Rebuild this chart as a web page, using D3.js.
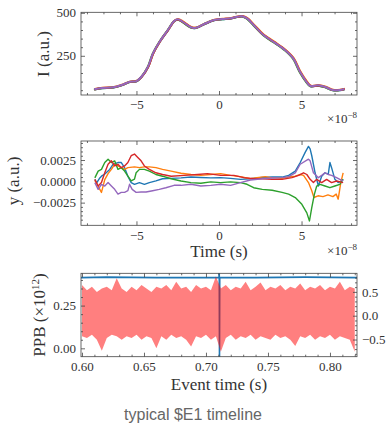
<!DOCTYPE html>
<html>
<head>
<meta charset="utf-8">
<script src="https://cdn.jsdelivr.net/npm/d3@7"></script>
<style>
  body { margin: 0; background: #fff; }
  svg { display: block; }
  .tick text { font-family: "Liberation Serif", serif; font-size: 13px; fill: #333; }
  .tick line { stroke: #444; stroke-width: 0.8; }
  .lbl { font-family: "Liberation Serif", serif; fill: #333; }
</style>
</head>
<body>
<div id="chart"></div>
<script>
// ---- top panel: intensity (time in units of 1e-8 s)
var intensityTime = [-7.56, -7.1, -6.4, -5.9, -5.4, -5.0, -4.7, -4.3, -4.0, -3.6, -3.1, -2.7, -2.5, -2.2, -1.7, -1.4, -0.9, -0.3, 0.2, 0.7, 1.1, 1.4, 1.7, 2.1, 2.7, 3.3, 4.0, 4.5, 4.9, 5.3, 5.55, 6.0, 6.4, 6.9, 7.3, 7.6];
var intensity = [55, 63, 67, 80, 99, 103, 128, 187, 264, 332, 400, 454, 462, 448, 416, 413, 435, 458, 464, 468, 477, 480, 468, 429, 371, 332, 284, 235, 158, 99, 74, 78, 70, 51, 51, 57];
var seriesColors = ["#1f77b4", "#ff7f0e", "#2ca02c", "#d62728", "#9467bd"];

// ---- middle panel: y (values in units of 1e-3)
var blueT = [-7.52, -7.42, -7.22, -7.12, -6.92, -6.62, -6.42, -6.12, -5.92, -5.72, -5.52, -5.32, -5.12, -4.82, -4.52, -4.22, -3.82, -3.42, -2.9, -2.3, -1.7, -1.1, -0.5, 0.1, 0.7, 1.3, 1.9, 2.3, 2.62, 3.22, 3.82, 4.22, 4.62, 4.92, 5.22, 5.42, 5.52, 5.62, 5.82, 6.02, 6.22, 6.42, 6.62, 6.72, 6.82, 7.02, 7.22, 7.42, 7.52];
var blueY = [0.23, -0.2, 0.4, 0.6, 0.85, 1.4, 2.0, 2.2, 2.2, 1.6, 0.6, -0.15, -0.35, -0.15, -0.35, -0.15, 0.05, 0.3, 0.35, 0.4, 0.5, 0.45, 0.4, 0.43, 0.35, 0.23, 0.3, 0.4, 0.45, 0.5, 0.5, 0.7, 1.2, 2.2, 3.4, 4.1, 3.8, 3.0, 1.0, -0.55, 0.6, 1.0, 0.85, 2.2, 1.6, 0.23, -0.15, 0.05, 0.23];
var orangeT = [-7.52, -7.32, -7.12, -6.92, -6.72, -6.52, -6.32, -6.12, -5.92, -5.72, -5.52, -5.12, -4.82, -4.52, -4.22, -3.82, -3.42, -2.9, -2.3, -1.7, -1.1, -0.5, 0.1, 0.7, 1.3, 1.9, 2.3, 2.8, 3.22, 3.82, 4.22, 4.62, 4.92, 5.12, 5.42, 5.62, 5.75, 6.0, 6.3, 6.6, 6.9, 7.1, 7.22, 7.38, 7.52];
var orangeY = [0.1, -0.6, -1.3, 0.2, 0.9, 1.4, 2.0, 1.8, 1.6, 1.4, 1.6, 1.7, 1.6, 1.7, 1.7, 1.6, 1.4, 1.2, 0.94, 0.8, 0.7, 0.8, 0.9, 0.7, 0.55, 0.3, 0.43, 0.55, 0.4, 0.35, 0.5, 0.6, 0.8, 0.7, -0.15, -1.1, -1.9, -1.7, -1.8, -1.6, -1.8, -1.5, -2.1, -0.15, 1.0];
var greenT = [-7.52, -7.32, -7.12, -6.92, -6.72, -6.52, -6.32, -6.12, -5.92, -5.72, -5.52, -5.32, -5.12, -5.02, -4.82, -4.52, -4.22, -3.82, -3.42, -2.9, -2.3, -1.7, -1.1, -0.5, 0.1, 0.7, 1.3, 1.7, 2.1, 2.62, 3.22, 3.82, 4.22, 4.62, 5.02, 5.32, 5.48, 5.62, 5.78, 5.92, 6.12, 6.42, 6.72, 7.02, 7.32, 7.52];
var greenY = [0.4, 1.2, 1.4, 2.2, 2.6, 2.2, 2.4, 1.4, 1.6, 1.2, 0.6, 0.04, 0.25, 1.0, 1.4, 1.4, 1.2, 0.8, 0.6, 0.3, 0.04, -0.15, -0.23, -0.07, -0.15, -0.07, -0.15, -0.35, -0.75, -0.95, -1.05, -1.3, -1.5, -1.9, -2.7, -3.7, -4.65, -3.1, -1.5, -0.55, -0.35, -0.55, -0.75, -0.55, -0.35, 0.23];
var redT = [-7.52, -7.32, -7.12, -6.92, -6.72, -6.52, -6.32, -6.12, -5.92, -5.72, -5.52, -5.32, -5.12, -4.92, -4.72, -4.52, -4.22, -3.82, -3.42, -2.9, -2.1, -1.3, -0.7, 0.1, 0.9, 1.5, 2.1, 2.62, 3.22, 3.82, 4.42, 4.82, 5.12, 5.32, 5.52, 5.72, 5.92, 6.22, 6.52, 6.82, 7.12, 7.52];
var redY = [0.23, -0.55, -0.15, 1.0, 2.0, 2.4, 1.8, 2.0, 1.6, 1.8, 2.2, 3.0, 3.2, 2.8, 2.4, 1.8, 1.4, 1.0, 0.8, 0.6, 0.7, 0.8, 0.9, 0.7, 0.7, 0.43, 0.3, 0.3, 0.23, 0.23, 0.43, 0.7, 1.0, 0.8, 0.23, -0.15, 0.23, -0.15, 0.23, -0.15, 0.04, -0.15];
var purpleT = [-7.52, -7.32, -7.12, -6.92, -6.72, -6.52, -6.32, -6.12, -5.92, -5.72, -5.52, -5.42, -5.26, -5.02, -4.72, -4.42, -4.02, -3.62, -3.22, -2.72, -2.3, -1.7, -1.1, -0.5, 0.1, 0.7, 1.3, 1.9, 2.62, 3.22, 3.82, 4.22, 4.62, 4.92, 5.42, 5.52, 5.72, 6.02, 6.22, 6.42, 6.62, 6.82, 7.12, 7.32, 7.52];
var purpleY = [-0.15, -0.94, -0.35, -0.55, -0.15, -0.55, -0.94, -1.5, -1.3, -1.3, -1.1, -0.35, -0.94, -1.3, -1.25, -1.25, -1.1, -0.95, -0.75, -0.47, -0.47, -0.35, -0.55, -0.47, -0.35, -0.47, -0.15, 0.15, 0.3, 0.39, 0.43, 0.55, 1.0, 2.0, 2.6, 2.4, 1.0, 0.43, 0.7, 1.0, 0.8, 0.7, 0.43, 0.23, 0.04];

// ---- bottom panel: PPB envelope (x1e12) and blue trace on right axis
var eventTime = [0.600, 0.604, 0.608, 0.612, 0.616, 0.620, 0.624, 0.628, 0.632, 0.636, 0.640, 0.644, 0.648, 0.652, 0.656, 0.660, 0.664, 0.668, 0.672, 0.676, 0.680, 0.684, 0.688, 0.692, 0.696, 0.700, 0.704, 0.708, 0.712, 0.716, 0.720, 0.724, 0.728, 0.732, 0.736, 0.740, 0.744, 0.748, 0.752, 0.756, 0.760, 0.764, 0.768, 0.772, 0.776, 0.780, 0.784, 0.788, 0.792, 0.796, 0.800, 0.804, 0.808, 0.812, 0.816, 0.820];
var ppbUpper = [0.37, 0.34, 0.36, 0.33, 0.35, 0.36, 0.34, 0.41, 0.35, 0.33, 0.36, 0.34, 0.37, 0.35, 0.33, 0.36, 0.35, 0.37, 0.34, 0.39, 0.35, 0.36, 0.33, 0.37, 0.35, 0.36, 0.34, 0.42, 0.35, 0.37, 0.34, 0.36, 0.35, 0.39, 0.34, 0.36, 0.385, 0.34, 0.36, 0.35, 0.37, 0.34, 0.36, 0.35, 0.38, 0.34, 0.36, 0.35, 0.37, 0.34, 0.36, 0.35, 0.39, 0.34, 0.36, 0.35];
var ppbLower = [0.07, 0.06, 0.08, 0.05, -0.014, 0.06, 0.08, 0.07, 0.05, 0.07, 0.06, 0.08, 0.05, 0.07, 0.06, 0.0, 0.07, 0.05, 0.08, 0.06, 0.07, 0.05, 0.01, 0.07, 0.06, 0.08, 0.05, 0.07, -0.02, 0.06, 0.08, 0.05, 0.07, 0.06, 0.08, 0.05, 0.07, 0.06, 0.05, 0.08, 0.06, 0.07, 0.05, 0.013, 0.07, 0.06, 0.08, 0.05, 0.07, 0.06, 0.08, 0.05, 0.07, 0.06, 0.05, -0.02];
var traceTime = [0.5992, 0.62, 0.66, 0.70, 0.7105, 0.7107, 0.7109, 0.7111, 0.74, 0.78, 0.8218];
var traceY = [0.80, 0.81, 0.80, 0.80, 0.80, 0.95, -0.95, 0.80, 0.80, 0.81, 0.80];

var W = 389, H = 424;
var svg = d3.select("#chart").append("svg").attr("width", W).attr("height", H);

var left = 81, right = 357;

// scales
var xT = d3.scaleLinear().domain([-8.36, 8.36]).range([left, right]);
var yTop = d3.scaleLinear().domain([22, 503]).range([95, 12.3]);
var yMid = d3.scaleLinear().domain([-5.16, 4.73]).range([225.3, 141]);
var xBot = d3.scaleLinear().domain([0.5992, 0.8218]).range([left, right]);
var yBotL = d3.scaleLinear().domain([-0.049, 0.439]).range([356.7, 273.3]);
var yBotR = d3.scaleLinear().domain([-0.86, 0.89]).range([356.7, 273.3]);

function clip(id, y0, y1) {
    svg.append("clipPath").attr("id", id)
      .append("rect").attr("x", left).attr("y", y0).attr("width", right - left).attr("height", y1 - y0);
}
clip("c1", 12.3, 95);
clip("c2", 141, 225.3);
clip("c3", 273.3, 356.7);

// draws inward ticks on all sides
function ticks(x, y, y0, y1, xt, xminor, yt, yminor, xfmt, yfmt, noRight) {
    svg.append("g").attr("transform", "translate(0," + y1 + ")")
      .call(d3.axisBottom(x).tickValues(xt).tickSize(-4).tickPadding(5).tickFormat(xfmt));
    svg.append("g").attr("transform", "translate(0," + y1 + ")")
      .call(d3.axisBottom(x).tickValues(xminor).tickSize(-2).tickFormat(""));
    svg.append("g").attr("transform", "translate(0," + y0 + ")")
      .call(d3.axisTop(x).tickValues(xt).tickSize(-4).tickFormat(""));
    svg.append("g").attr("transform", "translate(0," + y0 + ")")
      .call(d3.axisTop(x).tickValues(xminor).tickSize(-2).tickFormat(""));
    svg.append("g").attr("transform", "translate(" + left + ",0)")
      .call(d3.axisLeft(y).tickValues(yt).tickSize(-4).tickPadding(5).tickFormat(yfmt));
    svg.append("g").attr("transform", "translate(" + left + ",0)")
      .call(d3.axisLeft(y).tickValues(yminor).tickSize(-2).tickFormat(""));
    if (!noRight) {
        svg.append("g").attr("transform", "translate(" + right + ",0)")
          .call(d3.axisRight(y).tickValues(yt).tickSize(-4).tickFormat(""));
        svg.append("g").attr("transform", "translate(" + right + ",0)")
          .call(d3.axisRight(y).tickValues(yminor).tickSize(-2).tickFormat(""));
    }
    svg.selectAll(".domain").remove();
}

function box(y0, y1) {
    svg.append("rect").attr("x", left).attr("y", y0)
      .attr("width", right - left).attr("height", y1 - y0)
      .attr("fill", "none").attr("stroke", "#444").attr("stroke-width", 0.8);
}

function sciLabel(y, exp) {
    var t = svg.append("text").attr("class", "lbl").attr("x", right).attr("y", y)
      .attr("text-anchor", "end").style("font-size", "13px");
    t.append("tspan").text("×10");
    t.append("tspan").attr("dy", -5).style("font-size", "9px").text(exp);
}

var timeMinor = d3.range(-8, 9).filter(function(d) { return d % 5 != 0; });

// ---------- top panel
var lineTop = d3.line()
    .x(function(d, i) { return xT(intensityTime[i]); })
    .y(function(d) { return yTop(d); })
    .curve(d3.curveCatmullRom);
var offs = [[0.2, 0.3], [0.4, -0.3], [-0.3, 0.3], [0.2, 0.1], [0, 0]];
seriesColors.forEach(function(c, k) {
    svg.append("path").datum(intensity)
      .attr("clip-path", "url(#c1)")
      .attr("transform", "translate(" + offs[k][0] + "," + offs[k][1] + ")")
      .attr("d", lineTop).attr("fill", "none")
      .attr("stroke", c).attr("stroke-width", 2);
});
ticks(xT, yTop, 12.3, 95, [-5, 0, 5], timeMinor, [250, 500], d3.range(50, 501, 50).filter(function(d) { return d != 250 && d != 500; }), d3.format("d"), d3.format("d"));
box(12.3, 95);
sciLabel(123, "−8");
svg.append("text").attr("class", "lbl")
  .attr("transform", "translate(49,54) rotate(-90)")
  .attr("text-anchor", "middle").style("font-size", "17px").text("I (a.u.)");

// ---------- middle panel
var midSeries = [[blueT, blueY], [orangeT, orangeY], [greenT, greenY], [redT, redY], [purpleT, purpleY]];
midSeries.forEach(function(s, k) {
    var line = d3.line()
        .x(function(d, i) { return xT(s[0][i]); })
        .y(function(d) { return yMid(d); });
    svg.append("path").datum(s[1])
      .attr("clip-path", "url(#c2)")
      .attr("d", line).attr("fill", "none")
      .attr("stroke", seriesColors[k]).attr("stroke-width", 1.4)
      .attr("stroke-linejoin", "round");
});
ticks(xT, yMid, 141, 225.3, [-5, 0, 5], timeMinor, [-2.5, 0, 2.5],
      d3.range(-5, 4.6, 0.5).filter(function(d) { return Math.abs(d % 2.5) > 0.01; }),
      d3.format("d"), function(v) { return d3.format(".4f")(v / 1000); });
box(141, 225.3);
sciLabel(255, "−8");
svg.append("text").attr("class", "lbl")
  .attr("transform", "translate(19,181) rotate(-90)")
  .attr("text-anchor", "middle").style("font-size", "17px").text("y (a.u.)");
svg.append("text").attr("class", "lbl").attr("x", 219).attr("y", 257)
  .attr("text-anchor", "middle").style("font-size", "17px").text("Time (s)");

// ---------- bottom panel
var traceLine = d3.line()
    .x(function(d, i) { return xBot(traceTime[i]); })
    .y(function(d) { return yBotR(d); });
svg.append("path").datum(traceY)
  .attr("clip-path", "url(#c3)")
  .attr("d", traceLine).attr("fill", "none")
  .attr("stroke", "#1f77b4").attr("stroke-width", 1.6);

var band = d3.area()
    .x(function(d, i) { return xBot(eventTime[i]); })
    .y0(function(d, i) { return yBotL(ppbLower[i]); })
    .y1(function(d) { return yBotL(d); });
svg.append("path").datum(ppbUpper)
  .attr("clip-path", "url(#c3)")
  .attr("d", band).attr("fill", "#ff0000").attr("fill-opacity", 0.5);

ticks(xBot, yBotL, 273.3, 356.7, [0.60, 0.65, 0.70, 0.75, 0.80],
      d3.range(0.61, 0.821, 0.01).filter(function(d) { return Math.abs((d * 100) % 5) > 0.1 && Math.abs((d * 100) % 5 - 5) > 0.1; }),
      [0, 0.25], [0.05, 0.1, 0.15, 0.2, 0.3, 0.35, 0.4],
      d3.format(".2f"), d3.format(".2f"), true);
svg.append("g").attr("transform", "translate(" + right + ",0)")
  .call(d3.axisRight(yBotR).tickValues([-0.5, 0, 0.5]).tickSize(-4).tickPadding(5).tickFormat(d3.format(".1f")));
svg.append("g").attr("transform", "translate(" + right + ",0)")
  .call(d3.axisRight(yBotR).tickValues([-0.8, -0.7, -0.6, -0.4, -0.3, -0.2, -0.1, 0.1, 0.2, 0.3, 0.4, 0.6, 0.7, 0.8]).tickSize(-2).tickFormat(""));
svg.selectAll(".domain").remove();
box(273.3, 356.7);

var ppbLbl = svg.append("text").attr("class", "lbl")
  .attr("transform", "translate(45,315) rotate(-90)")
  .attr("text-anchor", "middle").style("font-size", "17px");
ppbLbl.append("tspan").text("PPB (×10");
ppbLbl.append("tspan").attr("dy", -6).style("font-size", "11px").text("12");
ppbLbl.append("tspan").attr("dy", 6).text(")");
svg.append("text").attr("class", "lbl").attr("x", 219).attr("y", 390)
  .attr("text-anchor", "middle").style("font-size", "17px").text("Event time (s)");

// caption
svg.append("text").attr("x", 193).attr("y", 420)
  .attr("text-anchor", "middle")
  .style("font-family", "'Liberation Sans', Arial, sans-serif")
  .style("font-size", "16px").style("fill", "#666")
  .text("typical $E1 timeline");
</script>
</body>
</html>
